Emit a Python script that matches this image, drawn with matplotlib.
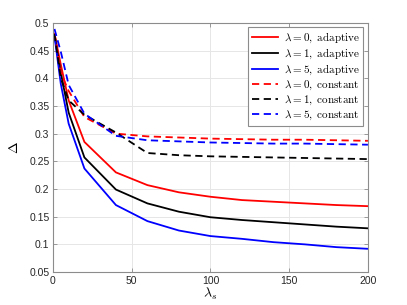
import matplotlib
matplotlib.use('Agg')
import matplotlib.pyplot as plt
from matplotlib.ticker import FuncFormatter

plt.rcParams['mathtext.fontset'] = 'cm'
plt.rcParams['font.family'] = ['Liberation Sans', 'DejaVu Sans']

# data
lam_s = [1, 5, 10, 20, 40, 60, 80, 100, 120, 140, 160, 180, 200]

adaptive_0 = [0.480, 0.425, 0.360, 0.285, 0.230, 0.207, 0.194, 0.186, 0.180, 0.177, 0.174, 0.171, 0.169]
adaptive_1 = [0.478, 0.410, 0.338, 0.257, 0.199, 0.174, 0.159, 0.149, 0.144, 0.140, 0.136, 0.132, 0.129]
adaptive_5 = [0.476, 0.390, 0.318, 0.237, 0.171, 0.142, 0.125, 0.115, 0.110, 0.104, 0.100, 0.095, 0.092]

constant_0 = [0.482, 0.410, 0.377, 0.330, 0.300, 0.295, 0.293, 0.291, 0.290, 0.289, 0.289, 0.288, 0.287]
constant_1 = [0.480, 0.400, 0.360, 0.334, 0.302, 0.265, 0.261, 0.259, 0.258, 0.257, 0.256, 0.255, 0.254]
constant_5 = [0.489, 0.448, 0.388, 0.336, 0.296, 0.288, 0.286, 0.284, 0.283, 0.282, 0.282, 0.281, 0.280]

series = [
    (adaptive_0, 'r', '-', r'$\lambda = 0,\ \mathrm{adaptive}$'),
    (adaptive_1, 'k', '-', r'$\lambda = 1,\ \mathrm{adaptive}$'),
    (adaptive_5, 'b', '-', r'$\lambda = 5,\ \mathrm{adaptive}$'),
    (constant_0, 'r', '--', r'$\lambda = 0,\ \mathrm{constant}$'),
    (constant_1, 'k', '--', r'$\lambda = 1,\ \mathrm{constant}$'),
    (constant_5, 'b', '--', r'$\lambda = 5,\ \mathrm{constant}$'),
]

fig = plt.figure(figsize=(4.07, 3.05), dpi=100)
ax = fig.add_axes([0.130, 0.108, 0.774, 0.817])

for vals, c, ls, lab in series:
    line, = ax.plot(lam_s, vals, color=c, linestyle=ls, lw=1.3, label=lab)
    if ls == '--':
        line.set_dashes((4, 2.5))

ax.set_xlim(0, 200)
ax.set_ylim(0.05, 0.5)
ax.set_xticks([0, 50, 100, 150, 200])
ax.set_yticks([0.05 * i for i in range(1, 11)])
ax.yaxis.set_major_formatter(FuncFormatter(lambda v, p: '%g' % round(v, 2)))

ax.grid(True, color='#e6e6e6', lw=0.7)
ax.set_axisbelow(True)
for s in ax.spines.values():
    s.set_color('#8c8c8c')
    s.set_linewidth(0.8)
ax.tick_params(direction='in', length=3, width=0.6, color='#8c8c8c',
               labelsize=7.5, labelcolor='#262626', top=True, right=True, pad=2.5)

ax.set_xlabel(r'$\lambda_s$', fontsize=10, labelpad=0)
ax.set_ylabel(r'$\Delta$', fontsize=10, labelpad=6)

leg = ax.legend(loc='upper right', fontsize=8, fancybox=False, framealpha=1,
                edgecolor='#8c8c8c', handlelength=2.4, handletextpad=0.5,
                borderpad=0.3, labelspacing=0.15, borderaxespad=0.4)
leg.get_frame().set_linewidth(0.8)

fig.savefig('out.png', dpi=100)
